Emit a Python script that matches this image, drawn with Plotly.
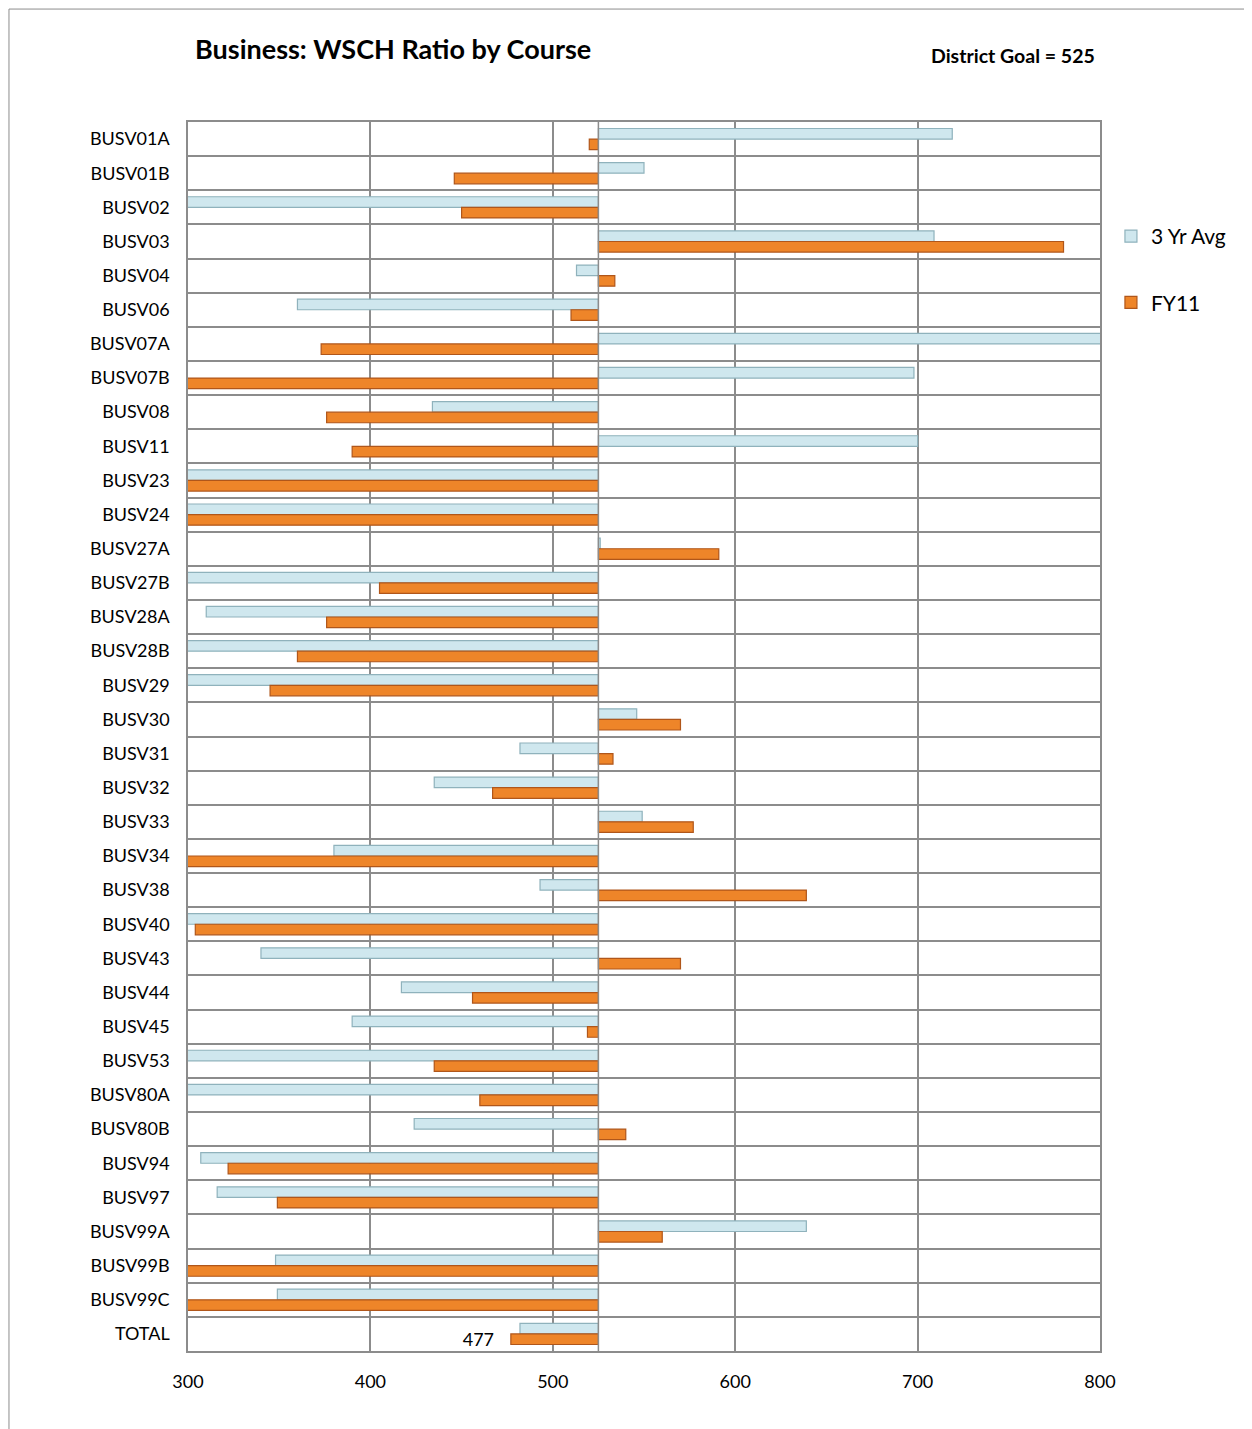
"""Business: WSCH ratio by course, 3 yr average vs FY11, bars drawn off the 525 district goal."""

import plotly.graph_objects as go

COURSES = [
    "BUSV01A", "BUSV01B", "BUSV02", "BUSV03", "BUSV04", "BUSV06", "BUSV07A", "BUSV07B",
    "BUSV08", "BUSV11", "BUSV23", "BUSV24", "BUSV27A", "BUSV27B", "BUSV28A", "BUSV28B",
    "BUSV29", "BUSV30", "BUSV31", "BUSV32", "BUSV33", "BUSV34", "BUSV38", "BUSV40",
    "BUSV43", "BUSV44", "BUSV45", "BUSV53", "BUSV80A", "BUSV80B", "BUSV94", "BUSV97",
    "BUSV99A", "BUSV99B", "BUSV99C", "TOTAL",
]

AVG_3YR = [
    719, 550, 280, 709, 513, 360, 830, 698,
    434, 700, 270, 275, 526, 285, 310, 285,
    290, 546, 482, 435, 549, 380, 493, 292,
    340, 417, 390, 288, 282, 424, 307, 316,
    639, 348, 349, 482,
]

FY11 = [
    520, 446, 450, 780, 534, 510, 373, 290,
    376, 390, 260, 265, 591, 405, 376, 360,
    345, 570, 533, 467, 577, 280, 639, 304,
    570, 456, 519, 435, 460, 540, 322, 349,
    560, 270, 275, 477,
]

GOAL = 525
X_TICKS = [300, 400, 500, 600, 700, 800]

AVG_COLOR = "#cfe7ee"
AVG_EDGE = "#8fb2bc"
FY_COLOR = "#ee8529"
FY_EDGE = "#b0561a"
GRID = "#8c8c8c"
FONT = "Lato"

fig = go.Figure()
fig.add_trace(
    go.Bar(
        y=COURSES,
        x=[v - GOAL for v in AVG_3YR],
        base=GOAL,
        orientation="h",
        name="3 Yr Avg",
        legendgroup="a",
        marker=dict(color=AVG_COLOR, line=dict(color=AVG_EDGE, width=1.2)),
        hovertemplate="%{y}: %{customdata}<extra>3 Yr Avg</extra>",
        customdata=AVG_3YR,
    )
)
fig.add_trace(
    go.Bar(
        y=COURSES,
        x=[v - GOAL for v in FY11],
        base=GOAL,
        orientation="h",
        name="FY11",
        legendgroup="b",
        marker=dict(color=FY_COLOR, line=dict(color=FY_EDGE, width=1.2)),
        # only the TOTAL row carries a data label
        text=["" if c != "TOTAL" else f"{v}\u00a0\u00a0\u00a0" for c, v in zip(COURSES, FY11)],
        textposition="outside",
        constraintext="none",
        textfont=dict(family=FONT, size=18, color="#000000"),
        hovertemplate="%{y}: %{customdata}<extra>FY11</extra>",
        customdata=FY11,
    )
)

# category axis crosses at the district goal
fig.add_vline(x=GOAL, line=dict(color=GRID, width=1.5), layer="above")

# outer chart-area border (top and left edges are visible in the picture)
fig.add_shape(type="line", xref="paper", yref="paper", x0=-0.1963, x1=1.2, y0=1.0919, y1=1.0919,
              line=dict(color="#8c8c8c", width=1))
fig.add_shape(type="line", xref="paper", yref="paper", x0=-0.1963, x1=-0.1963, y0=1.0919, y1=-0.07,
              line=dict(color="#8c8c8c", width=1))

fig.add_annotation(
    text="<b>Business: WSCH Ratio by Course</b>",
    xref="paper", yref="paper", x=0.0055, y=1.0602,
    xanchor="left", yanchor="middle", showarrow=False,
    font=dict(family=FONT, size=27, color="#000000"),
)
fig.add_annotation(
    text="<b>District Goal = 525</b>",
    xref="paper", yref="paper", x=0.9967, y=1.0545,
    xanchor="right", yanchor="middle", showarrow=False,
    font=dict(family=FONT, size=19.5, color="#000000"),
)

fig.update_layout(
    width=1244,
    height=1421,
    margin=dict(l=180, r=152, t=114, b=78),
    paper_bgcolor="white",
    plot_bgcolor="white",
    barmode="group",
    bargap=0.38,
    bargroupgap=0.0,
    font=dict(family=FONT, size=18, color="#000000"),
    showlegend=True,
    legend=dict(
        x=1.012, y=0.9235, xanchor="left", yanchor="top",
        traceorder="grouped", tracegroupgap=36,
        font=dict(family=FONT, size=21),
        bgcolor="rgba(0,0,0,0)",
    ),
    xaxis=dict(
        range=[300, 800],
        tickvals=X_TICKS,
        showgrid=True, gridcolor=GRID, gridwidth=1.5,
        showline=True, linecolor=GRID, linewidth=1.5, mirror=True,
        zeroline=False, ticks="", ticklen=0,
        ticklabelstandoff=14,
        tickfont=dict(family=FONT, size=18),
    ),
    yaxis=dict(
        categoryorder="array", categoryarray=COURSES,
        autorange="reversed",
        tickson="boundaries",
        showgrid=True, gridcolor=GRID, gridwidth=1.5,
        showline=True, linecolor=GRID, linewidth=1.5, mirror=True,
        ticks="", ticklen=0,
        ticklabelstandoff=13,
        tickfont=dict(family=FONT, size=18),
    ),
)

fig.write_html("out.html")
